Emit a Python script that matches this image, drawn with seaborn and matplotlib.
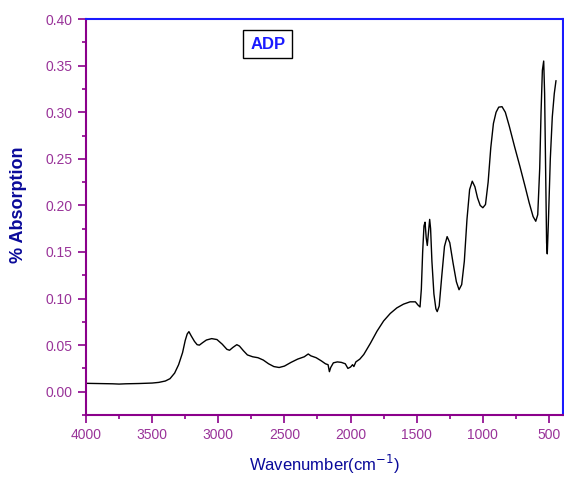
import matplotlib
matplotlib.use("Agg")
import matplotlib.pyplot as plt
import seaborn as sns
import pandas as pd
from matplotlib.ticker import MultipleLocator

wavenumber = [4000, 3900, 3800, 3750, 3700, 3600, 3500, 3450, 3400, 3365, 3330, 3300,
              3270, 3250, 3235, 3222, 3205, 3180, 3160, 3143, 3120, 3090, 3050, 3010,
              2970, 2935, 2915, 2890, 2860, 2840, 2810, 2780, 2740, 2700, 2660, 2620,
              2580, 2540, 2500, 2450, 2400, 2350, 2320, 2300, 2260, 2220, 2190, 2170,
              2160, 2150, 2130, 2100, 2070, 2040, 2020, 2000, 1985, 1975, 1960, 1930,
              1900, 1850, 1800, 1750, 1700, 1650, 1600, 1550, 1510, 1490, 1475, 1465,
              1455, 1445, 1437, 1428, 1420, 1412, 1402, 1395, 1385, 1370, 1355, 1345,
              1330, 1310, 1290, 1270, 1250, 1225, 1200, 1180, 1160, 1140, 1120, 1100,
              1080, 1060, 1040, 1020, 1000, 980, 960, 940, 920, 900, 880, 855, 830, 800,
              760, 720, 680, 650, 620, 600, 585, 570, 560, 550, 540, 533, 525, 518, 513,
              505, 490, 475, 460, 447]
absorption = [0.0090, 0.0088, 0.0085, 0.0082, 0.0085, 0.0088, 0.0093, 0.0100, 0.0115,
              0.0140, 0.0200, 0.0290, 0.0420, 0.0550, 0.0620, 0.0645, 0.0600, 0.0540,
              0.0505, 0.0500, 0.0525, 0.0555, 0.0570, 0.0560, 0.0510, 0.0455, 0.0445,
              0.0475, 0.0505, 0.0490, 0.0440, 0.0395, 0.0375, 0.0365, 0.0340, 0.0300,
              0.0270, 0.0260, 0.0275, 0.0315, 0.0350, 0.0375, 0.0405, 0.0385, 0.0365,
              0.0330, 0.0300, 0.0290, 0.0215, 0.0260, 0.0310, 0.0320, 0.0315, 0.0300,
              0.0250, 0.0265, 0.0290, 0.0270, 0.0320, 0.0350, 0.0400, 0.0520, 0.0650,
              0.0760, 0.0840, 0.0900, 0.0940, 0.0965, 0.0965, 0.0930, 0.0910, 0.1100,
              0.1500, 0.1780, 0.1820, 0.1650, 0.1570, 0.1700, 0.1850, 0.1750, 0.1400,
              0.1050, 0.0890, 0.0860, 0.0920, 0.1250, 0.1560, 0.1665, 0.1600, 0.1380,
              0.1180, 0.1095, 0.1150, 0.1400, 0.1850, 0.2170, 0.2260, 0.2200, 0.2080,
              0.2000, 0.1975, 0.2010, 0.2250, 0.2620, 0.2880, 0.3000, 0.3055, 0.3060,
              0.3000, 0.2850, 0.2630, 0.2420, 0.2200, 0.2030, 0.1880, 0.1830, 0.1900,
              0.2400, 0.3000, 0.3450, 0.3550, 0.3200, 0.2300, 0.1600, 0.1480, 0.1800,
              0.2500, 0.2950, 0.3200, 0.3340]

x_ticks = [4000, 3500, 3000, 2500, 2000, 1500, 1000, 500]
y_ticks = [0.00, 0.05, 0.10, 0.15, 0.20, 0.25, 0.30, 0.35, 0.40]

sns.set_style("white")
plt.rcParams['font.family'] = ['Liberation Sans', 'DejaVu Sans']

purple = "#8B008B"
label_purple = "#993399"
blue = "#1a1aff"
navy = "#0a0a9a"

df = pd.DataFrame({"wn": wavenumber, "abs": absorption})

fig = plt.figure(figsize=(5.64, 4.78), dpi=100)
ax = fig.add_axes([0.1525, 0.1318, 0.8455, 0.8282])
sns.lineplot(data=df, x="wn", y="abs", ax=ax, color="black", linewidth=1.0,
             sort=False, estimator=None)

ax.set_xlim(4000, 395)
ax.set_ylim(-0.025, 0.40)
ax.set_xticks(x_ticks)
ax.set_xticklabels([str(t) for t in x_ticks])
ax.set_yticks(y_ticks)
ax.set_yticklabels([f"{t:.2f}" for t in y_ticks])
ax.xaxis.set_minor_locator(MultipleLocator(250))
ax.yaxis.set_minor_locator(MultipleLocator(0.025))

ax.tick_params(axis='both', which='both', direction='out', colors=purple,
               labelcolor=label_purple, labelsize=10, width=1.2)
ax.tick_params(axis='both', which='major', length=6)
ax.tick_params(axis='both', which='minor', length=3)
ax.tick_params(top=False, right=False, bottom=True, left=True, which='both')

for s in ['left', 'bottom']:
    ax.spines[s].set_color(purple)
    ax.spines[s].set_linewidth(1.5)
for s in ['top', 'right']:
    ax.spines[s].set_color(blue)
    ax.spines[s].set_linewidth(1.5)

ax.set_xlabel("Wavenumber(cm$^{-1}$)", color=navy, fontsize=12, labelpad=8)
ax.set_ylabel("% Absorption", color=navy, fontsize=13, fontweight='bold')
ax.yaxis.set_label_coords(-0.123, 0.53)

ax.text(0.381, 0.937, "ADP", transform=ax.transAxes, ha='center', va='center',
        color=blue, fontsize=12, fontweight='bold',
        bbox=dict(boxstyle='square,pad=0.4', facecolor='white', edgecolor='black', linewidth=1))

fig.savefig("out.png", dpi=100)
